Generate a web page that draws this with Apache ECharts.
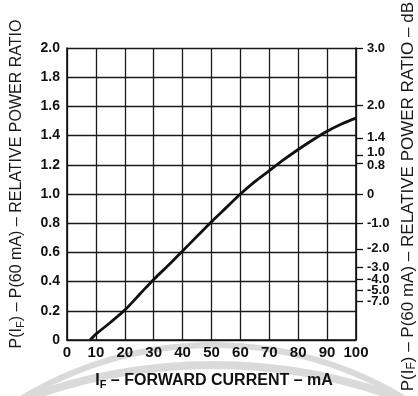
<!DOCTYPE html>
<html>
<head>
<meta charset="utf-8">
<script src="https://cdn.jsdelivr.net/npm/echarts@6/dist/echarts.min.js"></script>
<style>html,body{margin:0;padding:0;background:#fff}#c{width:418px;height:396px}</style>
</head>
<body>
<div id="c"></div>
<script>
// Forward current (mA) and relative power ratio P(IF)/P(60 mA)
var currentMA = [8, 10, 15, 20, 25, 30, 35, 40, 45, 50, 55, 60, 65, 70, 75, 80, 85, 90, 95, 100];
var powerRatio = [0, 0.04, 0.12, 0.205, 0.31, 0.415, 0.51, 0.61, 0.71, 0.81, 0.905, 1.0, 1.085, 1.16, 1.235, 1.305, 1.37, 1.43, 1.48, 1.52];
// Right axis (dB) ticks, placed at the ratio values (ascending)
var rightTickRatios = [0.265, 0.34, 0.415, 0.5, 0.625, 0.8, 1.0, 1.21, 1.265, 1.385, 1.61, 2.0];
var rightTickLabels = ['-7.0', '-5.0', '-4.0', '-3.0', '-2.0', '-1.0', '0', '0.8', '1.0', '1.4', '2.0', '3.0'];
var xTicks = [0, 10, 20, 30, 40, 50, 60, 70, 80, 90, 100];
var leftTicks = [0, 0.2, 0.4, 0.6, 0.8, 1.0, 1.2, 1.4, 1.6, 1.8, 2.0];

var FONT = '"Liberation Sans", Arial, sans-serif';
var chart = echarts.init(document.getElementById('c'), null, {renderer: 'canvas'});

var lineData = currentMA.map(function (x, i) { return [x, powerRatio[i]]; });
// order the custom labels so ECharts' min/max-label overlap check never drops a crowded label
var rightCustom = [rightTickRatios[0]].concat(rightTickRatios.slice(2), [rightTickRatios[1]]);

var axisLineStyle = {color: '#111', width: 1.6};
var gridLineStyle = {color: '#1a1a1a', width: 1.3};
var labelStyle = {color: '#111', fontFamily: FONT, fontWeight: 'bold', fontSize: 15};

var option = {
  backgroundColor: '#fff',
  animation: false,
  grid: {left: 67, right: 62, top: 48, bottom: 56, containLabel: false},
  xAxis: {
    type: 'value', min: 0, max: 100, interval: 10,
    axisLine: {show: true, lineStyle: axisLineStyle},
    axisTick: {show: false},
    splitLine: {show: true, lineStyle: gridLineStyle},
    axisLabel: Object.assign({margin: 5, formatter: function (v) { return xTicks.indexOf(v) >= 0 ? String(v) : ''; }}, labelStyle)
  },
  yAxis: [{
    type: 'value', min: 0, max: 2, interval: 0.2, position: 'left',
    axisLine: {show: true, lineStyle: axisLineStyle},
    axisTick: {show: false},
    splitLine: {show: true, lineStyle: gridLineStyle},
    axisLabel: Object.assign({}, labelStyle, {margin: 7, fontSize: 14, formatter: function (v) {
      for (var i = 0; i < leftTicks.length; i++) {
        if (Math.abs(leftTicks[i] - v) < 1e-6) return v === 0 ? '0' : leftTicks[i].toFixed(1);
      }
      return '';
    }})
  }, {
    type: 'value', min: 0, max: 2, position: 'right',
    axisLine: {show: true, lineStyle: axisLineStyle},
    axisTick: {show: true, length: 7, inside: false, customValues: rightCustom, lineStyle: {color: '#111', width: 1.3}},
    splitLine: {show: false},
    axisLabel: Object.assign({}, labelStyle, {margin: 11, fontSize: 13, showMinLabel: true, showMaxLabel: true, hideOverlap: false,
      customValues: rightCustom,
      rich: {
        up: {fontFamily: FONT, fontWeight: 'bold', fontSize: 13, color: '#111', padding: [0, 0, 5, 0]},
        dn: {fontFamily: FONT, fontWeight: 'bold', fontSize: 13, color: '#111', padding: [5, 0, 0, 0]}
      },
      formatter: function (v) {
        for (var i = 0; i < rightTickRatios.length; i++) {
          if (Math.abs(rightTickRatios[i] - v) < 1e-6) {
            var t = rightTickLabels[i];
            if (t === '1.0') return '{up|' + t + '}';
            if (t === '0.8') return '{dn|' + t + '}';
            return t;
          }
        }
        return '';
      }})
  }],
  series: [{
    type: 'line', xAxisIndex: 0, yAxisIndex: 0,
    data: lineData, smooth: 0.3, symbol: 'none',
    lineStyle: {color: '#111', width: 2.8},
    z: 5
  }],
  graphic: [
    {type: 'circle', z: -10, silent: true, shape: {cx: 213, cy: 713, r: 368},
     style: {fill: 'none', stroke: '#dadada', lineWidth: 6}},
    {type: 'circle', z: -10, silent: true, shape: {cx: 213, cy: 904, r: 539},
     style: {fill: 'none', stroke: '#dadada', lineWidth: 8}},
    {type: 'text', x: 17, y: 184, rotation: Math.PI / 2,
     style: {text: '{n|P(I}{s|F}{n|) – P(60 mA) – RELATIVE POWER RATIO}', align: 'center', verticalAlign: 'middle',
       rich: {n: {fontSize: 16, fontFamily: FONT, fill: '#1a1a1a', lineHeight: 20},
              s: {fontSize: 11, fontFamily: FONT, fill: '#1a1a1a', lineHeight: 20, padding: [8, 0, 0, 0]}}}},
    {type: 'text', x: 408, y: 2, rotation: Math.PI / 2,
     style: {text: '{n|P(I}{s|F}{n|) – P(60 mA) – RELATIVE POWER RATIO – dB}', align: 'right', verticalAlign: 'middle',
       rich: {n: {fontSize: 17, fontFamily: FONT, fill: '#1a1a1a', lineHeight: 20},
              s: {fontSize: 12, fontFamily: FONT, fill: '#1a1a1a', lineHeight: 20, padding: [8, 0, 0, 0]}}}},
    {type: 'text', x: 214, y: 381,
     style: {text: '{n|I}{s|F}{n| – FORWARD CURRENT – mA}', align: 'center', verticalAlign: 'middle',
       rich: {n: {fontSize: 16, fontFamily: FONT, fontWeight: 'bold', fill: '#111', lineHeight: 20},
              s: {fontSize: 11, fontFamily: FONT, fontWeight: 'bold', fill: '#111', lineHeight: 20, padding: [8, 0, 0, 0]}}}}
  ]
};
chart.setOption(option);
</script>
</body>
</html>
